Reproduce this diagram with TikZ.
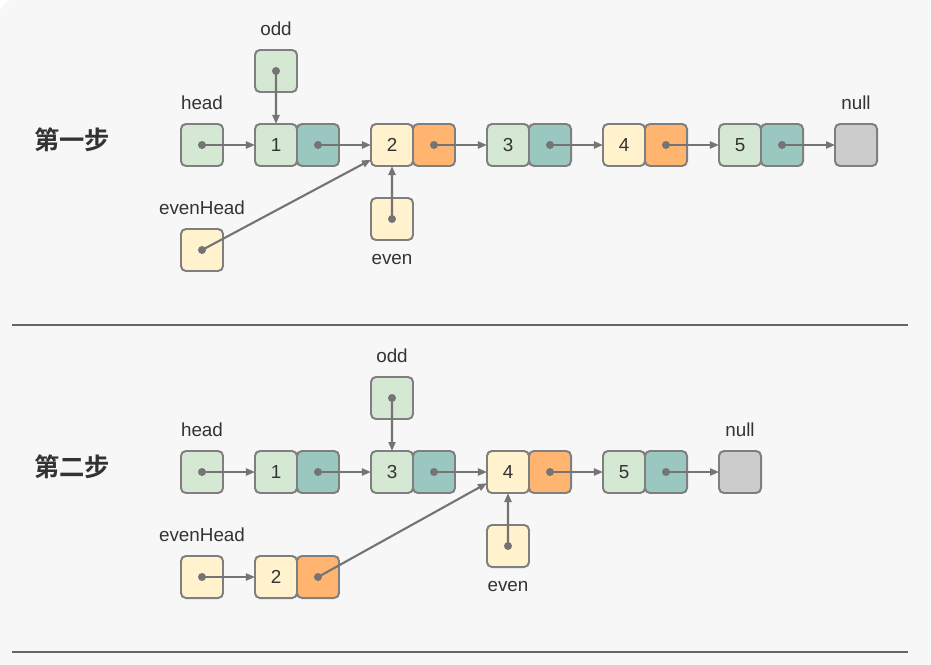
\documentclass[tikz,border=0pt]{standalone}
\usepackage{fontspec}
\setmainfont{Liberation Sans}
\newfontfamily\cjk{Noto Sans CJK SC Bold}
\usetikzlibrary{arrows.meta,positioning}

\definecolor{bg}{HTML}{F7F7F7}
\definecolor{edge}{HTML}{7F7F7F}
\definecolor{wire}{HTML}{747474}
\definecolor{txt}{HTML}{333333}
\definecolor{gcell}{HTML}{D5E8D4}
\definecolor{tcell}{HTML}{9AC7BF}
\definecolor{ycell}{HTML}{FFF2CC}
\definecolor{ocell}{HTML}{FFB570}
\definecolor{ncell}{HTML}{CCCCCC}

\begin{document}
\begin{tikzpicture}[
    x=0.025cm, y=-0.025cm,
    node distance=0.36cm,
    cell/.style={draw=edge, line width=1.4pt, rounded corners=3.5pt, minimum size=1.05cm, inner sep=0pt, outer sep=0pt, font=\fontsize{13.4}{15}\selectfont, text=txt},
    greencell/.style={cell, fill=gcell},
    tealcell/.style={cell, fill=tcell},
    yellowcell/.style={cell, fill=ycell},
    orangecell/.style={cell, fill=ocell},
    nullcell/.style={cell, fill=ncell},
    lbl/.style={inner sep=0pt, font=\fontsize{13.4}{15}\selectfont, text=txt},
    title/.style={font=\cjk\fontsize{18}{20}\selectfont, text=txt},
    link/.style={-{Triangle[length=2.25mm, width=1.75mm]}, line width=1.5pt, draw=wire},
    dot/.style={fill=wire},
    sepline/.style={draw=black!60, line width=1pt}
]
\useasboundingbox (0,0) rectangle (931,664);
\fill[white] (0,0) rectangle (931,664);
\fill[bg, rounded corners=10] (0,0) rectangle (960,700);

% step one
\node[title] (tA) at (72,140) {第一步};
\node[greencell] (hA) at (202,145) {};
\node[lbl, above=of hA] (hAl) {head};
\node[tealcell] (p1A) at (318,145) {};
\node[greencell, left=0pt of p1A] (v1A) {1};
\node[orangecell] (p2A) at (434,145) {};
\node[yellowcell, left=0pt of p2A] (v2A) {2};
\node[tealcell] (p3A) at (550,145) {};
\node[greencell, left=0pt of p3A] (v3A) {3};
\node[orangecell] (p4A) at (666,145) {};
\node[yellowcell, left=0pt of p4A] (v4A) {4};
\node[tealcell] (p5A) at (782,145) {};
\node[greencell, left=0pt of p5A] (v5A) {5};
\node[nullcell] (nullA) at (856,145) {};
\node[lbl, above=of nullA] (nullAl) {null};
\node[greencell] (oddA) at (276,71) {};
\node[lbl, above=of oddA] (oddAl) {odd};
\node[yellowcell] (evenA) at (392,219) {};
\node[lbl, below=of evenA] (evenAl) {even};
\node[yellowcell] (ehA) at (202,250) {};
\node[lbl, above=of ehA] (ehAl) {evenHead};

\draw[link] (hA.center) -- (v1A);
\draw[link] (p1A.center) -- (v2A);
\draw[link] (p2A.center) -- (v3A);
\draw[link] (p3A.center) -- (v4A);
\draw[link] (p4A.center) -- (v5A);
\draw[link] (p5A.center) -- (nullA);
\draw[link] (oddA.center) -- (v1A);
\draw[link] (evenA.center) -- (v2A);
\draw[link] (ehA.center) -- (v2A.215);
\fill[dot] (hA) circle (4) (p1A) circle (4) (p2A) circle (4) (p3A) circle (4)
  (p4A) circle (4) (p5A) circle (4) (oddA) circle (4) (evenA) circle (4) (ehA) circle (4);

\draw[sepline] (12,325) -- (908,325);

% step two
\node[title] (tB) at (72,467) {第二步};
\node[greencell] (hB) at (202,472) {};
\node[lbl, above=of hB] (hBl) {head};
\node[tealcell] (p1B) at (318,472) {};
\node[greencell, left=0pt of p1B] (v1B) {1};
\node[tealcell] (p3B) at (434,472) {};
\node[greencell, left=0pt of p3B] (v3B) {3};
\node[orangecell] (p4B) at (550,472) {};
\node[yellowcell, left=0pt of p4B] (v4B) {4};
\node[tealcell] (p5B) at (666,472) {};
\node[greencell, left=0pt of p5B] (v5B) {5};
\node[nullcell] (nullB) at (740,472) {};
\node[lbl, above=of nullB] (nullBl) {null};
\node[greencell] (oddB) at (392,398) {};
\node[lbl, above=of oddB] (oddBl) {odd};
\node[yellowcell] (evenB) at (508,546) {};
\node[lbl, below=of evenB] (evenBl) {even};
\node[yellowcell] (ehB) at (202,577) {};
\node[lbl, above=of ehB] (ehBl) {evenHead};
\node[orangecell] (p2B) at (318,577) {};
\node[yellowcell, left=0pt of p2B] (v2B) {2};

\draw[link] (hB.center) -- (v1B);
\draw[link] (p1B.center) -- (v3B);
\draw[link] (p3B.center) -- (v4B);
\draw[link] (p4B.center) -- (v5B);
\draw[link] (p5B.center) -- (nullB);
\draw[link] (oddB.center) -- (v3B);
\draw[link] (evenB.center) -- (v4B);
\draw[link] (ehB.center) -- (v2B);
\draw[link] (p2B.center) -- (v4B.208);
\fill[dot] (hB) circle (4) (p1B) circle (4) (p3B) circle (4) (p4B) circle (4)
  (p5B) circle (4) (oddB) circle (4) (evenB) circle (4) (ehB) circle (4) (p2B) circle (4);

\draw[sepline] (12,652) -- (908,652);
\end{tikzpicture}
\end{document}
